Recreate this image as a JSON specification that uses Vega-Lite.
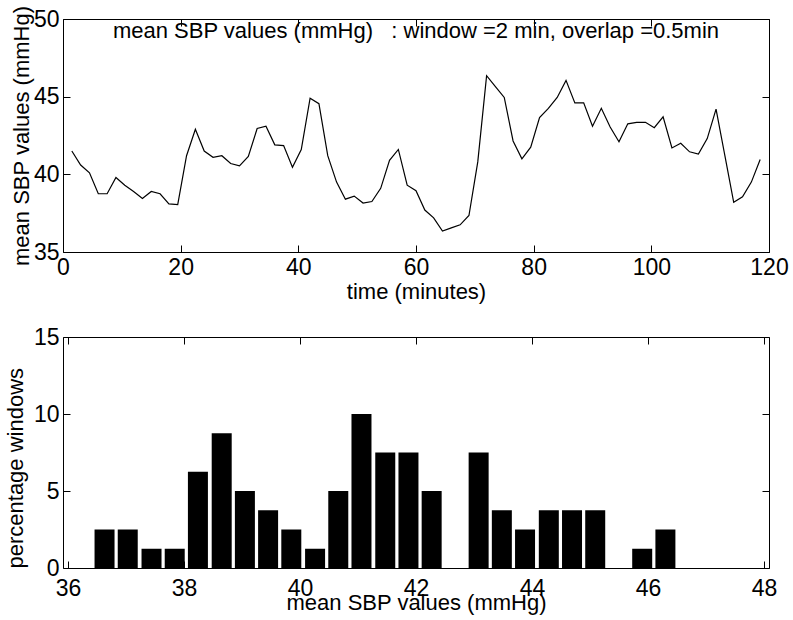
{
  "$schema": "https://vega.github.io/schema/vega-lite/v6.json",
  "background": "white",
  "padding": {"left": 3, "top": 4, "right": 5, "bottom": 5},
  "config": {
    "font": "Liberation Sans",
    "view": {"stroke": "black", "strokeWidth": 1},
    "axis": {
      "grid": false,
      "domain": false,
      "tickColor": "black",
      "tickSize": -7,
      "labelPadding": 11,
      "labelFontSize": 23,
      "labelColor": "black",
      "labelFont": "Liberation Sans",
      "labelFlush": false,
      "labelOverlap": false,
      "titleFontSize": 22,
      "titleFontWeight": "normal",
      "titleColor": "black",
      "titleFont": "Liberation Sans"
    }
  },
  "spacing": 22,
  "vconcat": [
    {
      "width": 706,
      "height": 233,
      "title": {
        "text": "mean SBP values (mmHg)\u00a0\u00a0\u00a0: window =2 min, overlap =0.5min",
        "fontSize": 22,
        "fontWeight": "normal",
        "color": "black",
        "anchor": "middle",
        "offset": -38
      },
      "data": {
        "values": [
          {"time": 1.5, "sbp": 41.5}, {"time": 3, "sbp": 40.6}, {"time": 4.5, "sbp": 40.1},
          {"time": 6, "sbp": 38.75}, {"time": 7.5, "sbp": 38.75}, {"time": 9, "sbp": 39.8},
          {"time": 10.5, "sbp": 39.3}, {"time": 12, "sbp": 38.9}, {"time": 13.5, "sbp": 38.45},
          {"time": 15, "sbp": 38.9}, {"time": 16.5, "sbp": 38.75}, {"time": 18, "sbp": 38.1},
          {"time": 19.5, "sbp": 38.05}, {"time": 21, "sbp": 41.2}, {"time": 22.5, "sbp": 42.9},
          {"time": 24, "sbp": 41.5}, {"time": 25.5, "sbp": 41.1}, {"time": 27, "sbp": 41.2},
          {"time": 28.5, "sbp": 40.7}, {"time": 30, "sbp": 40.55}, {"time": 31.5, "sbp": 41.15},
          {"time": 33, "sbp": 42.95}, {"time": 34.5, "sbp": 43.1}, {"time": 36, "sbp": 41.9},
          {"time": 37.5, "sbp": 41.85}, {"time": 39, "sbp": 40.45}, {"time": 40.5, "sbp": 41.6},
          {"time": 42, "sbp": 44.9}, {"time": 43.5, "sbp": 44.55}, {"time": 45, "sbp": 41.2},
          {"time": 46.5, "sbp": 39.5}, {"time": 48, "sbp": 38.4}, {"time": 49.5, "sbp": 38.6},
          {"time": 51, "sbp": 38.15}, {"time": 52.5, "sbp": 38.25}, {"time": 54, "sbp": 39.1},
          {"time": 55.5, "sbp": 40.9}, {"time": 57, "sbp": 41.6}, {"time": 58.5, "sbp": 39.3},
          {"time": 60, "sbp": 38.95}, {"time": 61.5, "sbp": 37.7}, {"time": 63, "sbp": 37.2},
          {"time": 64.5, "sbp": 36.35}, {"time": 66, "sbp": 36.55}, {"time": 67.5, "sbp": 36.75},
          {"time": 69, "sbp": 37.35}, {"time": 70.5, "sbp": 40.8}, {"time": 72, "sbp": 46.35},
          {"time": 73.5, "sbp": 45.65}, {"time": 75, "sbp": 44.95}, {"time": 76.5, "sbp": 42.15},
          {"time": 78, "sbp": 41.0}, {"time": 79.5, "sbp": 41.75}, {"time": 81, "sbp": 43.65},
          {"time": 82.5, "sbp": 44.25}, {"time": 84, "sbp": 44.95}, {"time": 85.5, "sbp": 46.05},
          {"time": 87, "sbp": 44.6}, {"time": 88.5, "sbp": 44.6}, {"time": 90, "sbp": 43.1},
          {"time": 91.5, "sbp": 44.25}, {"time": 93, "sbp": 43.05}, {"time": 94.5, "sbp": 42.1},
          {"time": 96, "sbp": 43.25}, {"time": 97.5, "sbp": 43.35}, {"time": 99, "sbp": 43.35},
          {"time": 100.5, "sbp": 43.0}, {"time": 102, "sbp": 43.7}, {"time": 103.5, "sbp": 41.7},
          {"time": 105, "sbp": 42.0}, {"time": 106.5, "sbp": 41.45}, {"time": 108, "sbp": 41.3},
          {"time": 109.5, "sbp": 42.3}, {"time": 111, "sbp": 44.2}, {"time": 112.5, "sbp": 41.2},
          {"time": 114, "sbp": 38.2}, {"time": 115.5, "sbp": 38.55}, {"time": 117, "sbp": 39.5},
          {"time": 118.5, "sbp": 40.95}
        ]
      },
      "layer": [
        {
          "mark": {"type": "line", "color": "black", "strokeWidth": 1.2},
          "encoding": {
            "x": {
              "field": "time", "type": "quantitative",
              "scale": {"domain": [0, 120], "nice": false},
              "axis": {"orient": "bottom", "values": [0, 20, 40, 60, 80, 100, 120], "title": "time (minutes)", "titlePadding": 2}
            },
            "y": {
              "field": "sbp", "type": "quantitative",
              "scale": {"domain": [35, 50], "nice": false, "zero": false},
              "axis": {"orient": "left", "values": [35, 40, 45, 50], "title": "mean SBP values (mmHg)", "titlePadding": 0}
            }
          }
        },
        {
          "mark": {"type": "line", "strokeOpacity": 0},
          "encoding": {
            "x": {
              "field": "time", "type": "quantitative",
              "scale": {"domain": [0, 120], "nice": false},
              "axis": {"orient": "top", "values": [0, 20, 40, 60, 80, 100, 120], "labels": false, "title": null}
            },
            "y": {
              "field": "sbp", "type": "quantitative",
              "scale": {"domain": [35, 50], "nice": false, "zero": false},
              "axis": {"orient": "right", "values": [35, 40, 45, 50], "labels": false, "title": null}
            }
          }
        }
      ],
      "resolve": {"axis": {"x": "independent", "y": "independent"}}
    },
    {
      "width": 706,
      "height": 231,
      "data": {
        "values": [
          {"bin_center": 36.63, "percent": 2.5}, {"bin_center": 37.03, "percent": 2.5},
          {"bin_center": 37.44, "percent": 1.25}, {"bin_center": 37.84, "percent": 1.25},
          {"bin_center": 38.24, "percent": 6.25}, {"bin_center": 38.65, "percent": 8.75},
          {"bin_center": 39.05, "percent": 5}, {"bin_center": 39.45, "percent": 3.75},
          {"bin_center": 39.85, "percent": 2.5}, {"bin_center": 40.26, "percent": 1.25},
          {"bin_center": 40.66, "percent": 5}, {"bin_center": 41.06, "percent": 10},
          {"bin_center": 41.47, "percent": 7.5}, {"bin_center": 41.87, "percent": 7.5},
          {"bin_center": 42.27, "percent": 5}, {"bin_center": 42.68, "percent": 0},
          {"bin_center": 43.08, "percent": 7.5}, {"bin_center": 43.48, "percent": 3.75},
          {"bin_center": 43.88, "percent": 2.5}, {"bin_center": 44.29, "percent": 3.75},
          {"bin_center": 44.69, "percent": 3.75}, {"bin_center": 45.09, "percent": 3.75},
          {"bin_center": 45.5, "percent": 0}, {"bin_center": 45.9, "percent": 1.25},
          {"bin_center": 46.3, "percent": 2.5}
        ]
      },
      "layer": [
        {
          "mark": {"type": "bar", "color": "black", "size": 20},
          "encoding": {
            "x": {
              "field": "bin_center", "type": "quantitative",
              "scale": {"domain": [36, 48], "nice": false, "zero": false},
              "axis": {"orient": "bottom", "values": [36, 38, 40, 42, 44, 46, 48], "title": "mean SBP values (mmHg)", "labelPadding": 16, "titlePadding": -8}
            },
            "y": {
              "field": "percent", "type": "quantitative",
              "scale": {"domain": [0, 15], "nice": false},
              "axis": {"orient": "left", "values": [0, 5, 10, 15], "title": "percentage windows", "titlePadding": 6, "titleAnchor": "start"}
            }
          }
        },
        {
          "mark": {"type": "point", "opacity": 0},
          "encoding": {
            "x": {
              "field": "bin_center", "type": "quantitative",
              "scale": {"domain": [36, 48], "nice": false, "zero": false},
              "axis": {"orient": "top", "values": [36, 38, 40, 42, 44, 46, 48], "labels": false, "title": null}
            },
            "y": {
              "field": "percent", "type": "quantitative",
              "scale": {"domain": [0, 15], "nice": false},
              "axis": {"orient": "right", "values": [0, 5, 10, 15], "labels": false, "title": null}
            }
          }
        }
      ],
      "resolve": {"axis": {"x": "independent", "y": "independent"}}
    }
  ]
}
